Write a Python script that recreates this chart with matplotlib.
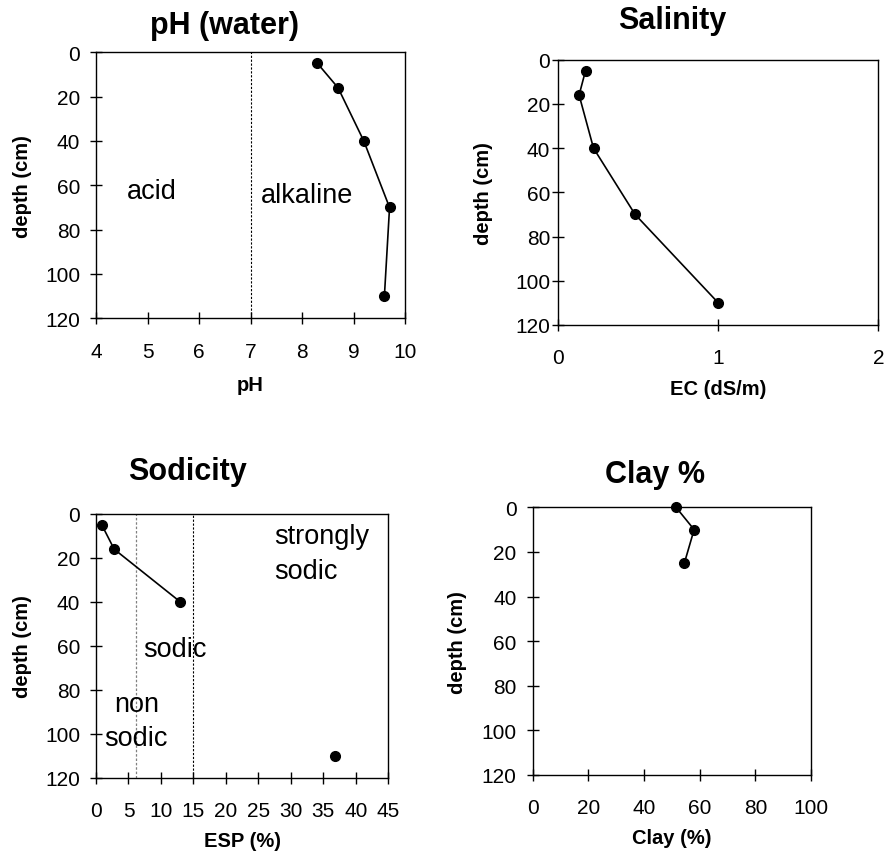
"""
Soil profile charts: pH, salinity, sodicity and clay content against depth
"""

import matplotlib
matplotlib.use('Agg')
import matplotlib.pyplot as plt

plt.rcParams['font.family'] = ['Liberation Sans', 'DejaVu Sans']

# pH (water)
PH_VALUES = [8.3, 8.7, 9.2, 9.7, 9.6]
PH_DEPTHS = [5, 16, 40, 70, 110]

# Salinity
EC_VALUES = [0.17, 0.13, 0.22, 0.48, 1.0]
EC_DEPTHS = [5, 16, 40, 70, 110]

# Sodicity (last sample plotted on its own, not joined)
ESP_VALUES = [0.9, 2.8, 13.0]
ESP_DEPTHS = [5, 16, 40]
ESP_DEEP_VALUE = [36.8]
ESP_DEEP_DEPTH = [110]

# Clay %
CLAY_VALUES = [51.5, 58.0, 54.5]
CLAY_DEPTHS = [0, 10, 25]

DEPTH_TICKS = [0, 20, 40, 60, 80, 100, 120]
PH_TICKS = [4, 5, 6, 7, 8, 9, 10]
EC_TICKS = [0, 1, 2]
ESP_TICKS = [0, 5, 10, 15, 20, 25, 30, 35, 40, 45]
CLAY_TICKS = [0, 20, 40, 60, 80, 100]

PH_NEUTRAL = 7
ESP_LIMITS = [6.2, 15]

PH_LABELS = [('acid', 4.6, 65.7), ('alkaline', 7.2, 67.7)]
ESP_LABELS = [('strongly', 27.4, 13.2), ('sodic', 27.4, 29.2),
              ('sodic', 7.3, 64.7)]
ESP_CENTER_LABELS = [('non', 6.2, 89.4), ('sodic', 6.2, 105.0)]

W, H = 885, 854
TICK_SIZE = 15
LABEL_SIZE = 14.5
NOTE_SIZE = 19.5
TITLE_SIZE = 22


def style_axis(ax, xlim, xticks, ytick_pad, ylabel_x, xlabel_gap, xlabel):
    ax.set_xlim(*xlim)
    ax.set_ylim(120, 0)
    ax.set_xticks(xticks)
    ax.set_yticks(DEPTH_TICKS)
    ax.set_xticklabels([str(t) for t in xticks])
    ax.tick_params(axis='both', direction='inout', length=8.6, width=1,
                   labelsize=TICK_SIZE, colors='black')
    ax.tick_params(axis='y', pad=ytick_pad)
    ax.tick_params(axis='x', pad=12.5)
    for sp in ax.spines.values():
        sp.set_linewidth(1)
        sp.set_color('black')
    ax.set_ylabel('depth (cm)', fontsize=LABEL_SIZE, fontweight='bold')
    ax.yaxis.set_label_coords(ylabel_x, 0.5)
    ax.set_xlabel(xlabel, fontsize=LABEL_SIZE, fontweight='bold')
    h_px = ax.get_position().height * H
    ax.xaxis.set_label_coords(0.5, -xlabel_gap / h_px)


def plot_profile(ax, x, y):
    ax.plot(x, y, '-o', color='black', linewidth=1.2, markersize=7,
            clip_on=False, zorder=3)


fig = plt.figure(figsize=(W / 100, H / 100), dpi=100)

ax1 = fig.add_axes([96 / W, 1 - 319.3 / H, 309 / W, 266 / H])
ax2 = fig.add_axes([558.3 / W, 1 - 326 / H, 320 / W, 265.3 / H])
ax3 = fig.add_axes([96 / W, 1 - 779 / H, 292.3 / W, 264 / H])
ax4 = fig.add_axes([532.7 / W, 1 - 776 / H, 278.3 / W, 267.7 / H])

# pH panel
ax1.axvline(PH_NEUTRAL, color='black', linestyle=(0, (2, 1.5)), linewidth=0.8)
plot_profile(ax1, PH_VALUES, PH_DEPTHS)
for txt, x, y in PH_LABELS:
    ax1.text(x, y, txt, fontsize=NOTE_SIZE, ha='left', va='baseline')
style_axis(ax1, (4, 10), PH_TICKS, 7.0, -0.207, 57, 'pH')

# Salinity panel
plot_profile(ax2, EC_VALUES, EC_DEPTHS)
style_axis(ax2, (0, 2), EC_TICKS, 1.5, -0.204, 54, 'EC (dS/m)')

# Sodicity panel
ax3.axvline(ESP_LIMITS[0], color='#808080', linestyle=(0, (2, 1.5)), linewidth=0.9)
ax3.axvline(ESP_LIMITS[1], color='black', linestyle=(0, (2, 1.5)), linewidth=0.8)
plot_profile(ax3, ESP_VALUES, ESP_DEPTHS)
ax3.plot(ESP_DEEP_VALUE, ESP_DEEP_DEPTH, 'o', color='black', markersize=7, zorder=3)
for txt, x, y in ESP_LABELS:
    ax3.text(x, y, txt, fontsize=NOTE_SIZE, ha='left', va='baseline')
for txt, x, y in ESP_CENTER_LABELS:
    ax3.text(x, y, txt, fontsize=NOTE_SIZE, ha='center', va='baseline')
style_axis(ax3, (0, 45), ESP_TICKS, 7.0, -0.219, 53, 'ESP (%)')

# Clay panel
plot_profile(ax4, CLAY_VALUES, CLAY_DEPTHS)
style_axis(ax4, (0, 100), CLAY_TICKS, 7.3, -0.236, 53, 'Clay (%)')

# Titles, centred over each chart block rather than the plot area
titles = [('pH (water)', 225, 34), ('Salinity', 672, 29),
          ('Sodicity', 187, 480), ('Clay %', 655, 483)]
for txt, x, y in titles:
    fig.text(x / W, 1 - y / H, txt, fontsize=TITLE_SIZE, fontweight='bold',
             ha='center', va='baseline')

fig.savefig('out.png', dpi=100)
